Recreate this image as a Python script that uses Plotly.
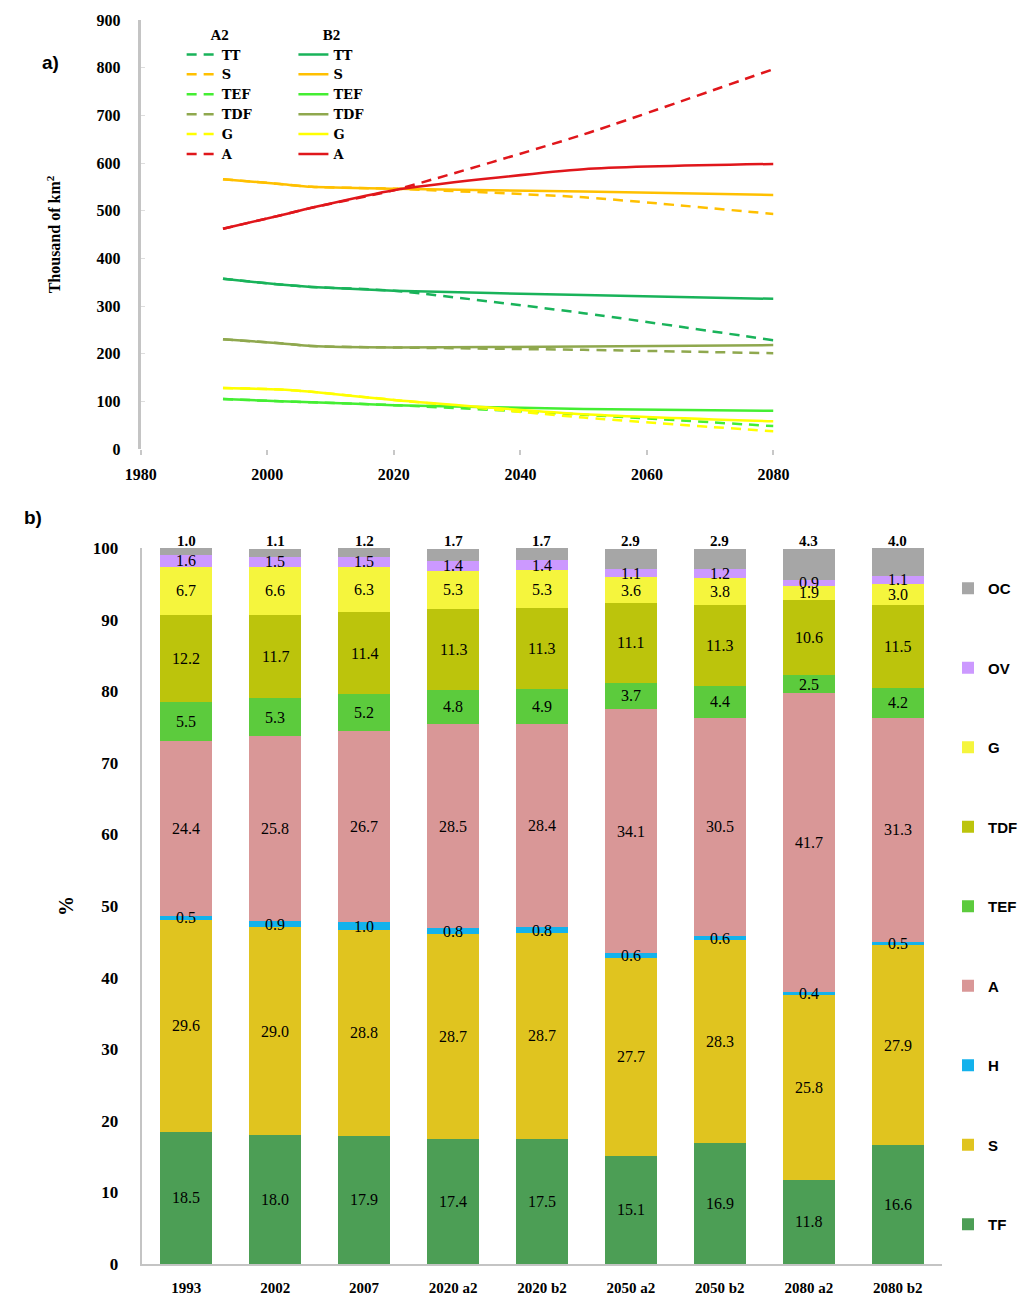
import plotly.graph_objects as go

# ---- panel a: land-cover area (thousand km2) under the A2 and B2 scenarios ----
years = [1993, 2002, 2007, 2020, 2050, 2080]
line_names = ["TT", "S", "TEF", "TDF", "G", "A"]

a2_tt = [357, 345, 340, 332, 285, 228]
a2_s = [566, 556, 550, 546, 528, 493]
a2_tef = [105, 100, 98, 92, 72, 48]
a2_tdf = [230, 222, 216, 213, 208, 201]
a2_g = [128, 125, 120, 103, 66, 37]
a2_a = [462, 490, 506, 543, 660, 797]

b2_tt = [357, 345, 340, 332, 323, 315]
b2_s = [566, 556, 550, 546, 540, 533]
b2_tef = [105, 100, 98, 92, 84, 80]
b2_tdf = [230, 222, 216, 213, 215, 218]
b2_g = [128, 125, 120, 103, 73, 58]
b2_a = [462, 490, 506, 543, 587, 598]

line_colors = ["#19b35a", "#ffc000", "#44ee33", "#8fa84e", "#ffff00", "#e0161b"]

# ---- panel b: share of each class (%) ----
categories = ["1993", "2002", "2007", "2020 a2", "2020 b2",
              "2050 a2", "2050 b2", "2080 a2", "2080 b2"]
pct_tf = [18.5, 18.0, 17.9, 17.4, 17.5, 15.1, 16.9, 11.8, 16.6]
pct_s = [29.6, 29.0, 28.8, 28.7, 28.7, 27.7, 28.3, 25.8, 27.9]
pct_h = [0.5, 0.9, 1.0, 0.8, 0.8, 0.6, 0.6, 0.4, 0.5]
pct_a = [24.4, 25.8, 26.7, 28.5, 28.4, 34.1, 30.5, 41.7, 31.3]
pct_tef = [5.5, 5.3, 5.2, 4.8, 4.9, 3.7, 4.4, 2.5, 4.2]
pct_tdf = [12.2, 11.7, 11.4, 11.3, 11.3, 11.1, 11.3, 10.6, 11.5]
pct_g = [6.7, 6.6, 6.3, 5.3, 5.3, 3.6, 3.8, 1.9, 3.0]
pct_ov = [1.6, 1.5, 1.5, 1.4, 1.4, 1.1, 1.2, 0.9, 1.1]
pct_oc = [1.0, 1.1, 1.2, 1.7, 1.7, 2.9, 2.9, 4.3, 4.0]

bar_names = ["TF", "S", "H", "A", "TEF", "TDF", "G", "OV", "OC"]
bar_colors = ["#4c9e55", "#e0c41f", "#13b2ec", "#d99797", "#5ccb3d",
              "#bcc40c", "#f5f53d", "#cc99ff", "#a6a6a6"]

W, H = 1023, 1300
SERIF = "Liberation Serif"
WIDE_SERIF = "DejaVu Serif"
SANS = "Liberation Sans"


def px_x(p):
    return p / W


def px_y(p):
    return 1 - p / H


fig = go.Figure()

a2_series = [a2_tt, a2_s, a2_tef, a2_tdf, a2_g, a2_a]
b2_series = [b2_tt, b2_s, b2_tef, b2_tdf, b2_g, b2_a]

for name, vals, col in zip(line_names, a2_series, line_colors):
    fig.add_trace(go.Scatter(
        x=years, y=vals, name=name, mode="lines",
        line=dict(color=col, width=2.5, dash="10px,7px", shape="spline", smoothing=0.6),
        legend="legend", xaxis="x", yaxis="y"))

for name, vals, col in zip(line_names, b2_series, line_colors):
    fig.add_trace(go.Scatter(
        x=years, y=vals, name=name, mode="lines",
        line=dict(color=col, width=2.5, shape="spline", smoothing=0.6),
        legend="legend2", xaxis="x", yaxis="y"))

# stacked from TF at the bottom; legend lists OC first (top) down to TF
bar_series = [pct_tf, pct_s, pct_h, pct_a, pct_tef, pct_tdf, pct_g, pct_ov, pct_oc]
for k, (name, vals, col) in enumerate(zip(bar_names, bar_series, bar_colors)):
    fig.add_trace(go.Bar(
        x=categories, y=vals, name=name, marker=dict(color=col, line=dict(width=0)),
        legend="legend3", legendgroup=name, legendrank=1000 - 10 * k,
        xaxis="x2", yaxis="y2"))

# value labels: centred on each stacked segment, OC written above the bar
annotations = []
base = [0.0] * len(categories)
for name, vals in zip(bar_names, bar_series):
    for i, v in enumerate(vals):
        if name == "OC":
            annotations.append(dict(
                x=i, y=100, xref="x2", yref="y2", text=f"{v:.1f}",
                showarrow=False, yanchor="bottom", yshift=-3,
                font=dict(family=SERIF, size=15, color="black", weight="bold")))
        else:
            annotations.append(dict(
                x=i, y=base[i] + v / 2, xref="x2", yref="y2",
                text=f"{v:.1f}", showarrow=False,
                font=dict(family=SERIF, size=16, color="black")))
        base[i] += v

annotations.append(dict(x=px_x(40), y=px_y(50), xref="paper", yref="paper", text="a)",
                        showarrow=False, font=dict(family=SANS, size=19, weight="bold",
                                                   color="black")))
annotations.append(dict(x=px_x(22), y=px_y(517), xref="paper", yref="paper", text="b)",
                        showarrow=False, font=dict(family=SANS, size=19, weight="bold",
                                                   color="black")))

tick_font = dict(family=SERIF, size=16, color="black", weight="bold")
legend_line_font = dict(family=WIDE_SERIF, size=13, color="black", weight="bold")

fig.update_layout(
    template="none",
    width=W, height=H,
    margin=dict(l=0, r=0, t=0, b=0, pad=0),
    paper_bgcolor="white", plot_bgcolor="white",
    barmode="stack", bargap=0.416,
    showlegend=True,
    annotations=annotations,
    xaxis=dict(
        domain=[px_x(141), px_x(775)], range=[1980, 2080], automargin=False,
        tickvals=[1980, 2000, 2020, 2040, 2060, 2080],
        showline=False, showgrid=False, zeroline=False,
        ticks="outside", ticklen=5, tickcolor="#c8c8c8", tickwidth=2,
        ticklabelstandoff=6,
        tickfont=tick_font, anchor="y"),
    yaxis=dict(
        domain=[px_y(449), px_y(20)], range=[0, 900], dtick=100, automargin=False,
        showline=True, linecolor="#c4c4c4", linewidth=3,
        showgrid=False, zeroline=False,
        ticks="inside", ticklen=4, tickcolor="#dddddd",
        ticklabelstandoff=14,
        tickfont=tick_font, anchor="x",
        title=dict(text="Thousand of km<sup>2</sup>", standoff=32,
                   font=dict(family=SERIF, size=16, color="black", weight="bold"))),
    xaxis2=dict(
        domain=[px_x(142), px_x(944)], range=[-0.5, 8.5], type="category",
        automargin=False,
        showline=True, linecolor="#c4c4c4", linewidth=2,
        showgrid=False, zeroline=False, ticks="",
        ticklabelstandoff=9,
        tickfont=dict(family=SERIF, size=15, color="black", weight="bold"),
        anchor="y2"),
    yaxis2=dict(
        domain=[px_y(1264), px_y(548)], range=[0, 100], dtick=10, automargin=False,
        showline=True, linecolor="#c4c4c4", linewidth=2,
        showgrid=False, zeroline=False, ticks="",
        ticklabelstandoff=18,
        tickfont=dict(family=SERIF, size=17, color="black", weight="bold"),
        anchor="x2",
        title=dict(text="%", standoff=14,
                   font=dict(family=SERIF, size=20, color="black", weight="bold"))),
    legend=dict(
        x=px_x(182), y=px_y(20), xanchor="left", yanchor="top",
        title=dict(text="A2", side="top center",
                   font=dict(family=SERIF, size=15, color="black", weight="bold")),
        font=legend_line_font, bgcolor="rgba(0,0,0,0)", itemwidth=30,
        tracegroupgap=0),
    legend2=dict(
        x=px_x(294), y=px_y(20), xanchor="left", yanchor="top",
        title=dict(text="B2", side="top center",
                   font=dict(family=SERIF, size=15, color="black", weight="bold")),
        font=legend_line_font, bgcolor="rgba(0,0,0,0)", itemwidth=30,
        tracegroupgap=0),
    legend3=dict(
        x=px_x(950), y=px_y(572), xanchor="left", yanchor="top",
        traceorder="grouped", tracegroupgap=57,
        font=dict(family=SANS, size=15, color="black", weight="bold"),
        bgcolor="rgba(0,0,0,0)", itemwidth=30),
)

fig.write_html("out.html")
